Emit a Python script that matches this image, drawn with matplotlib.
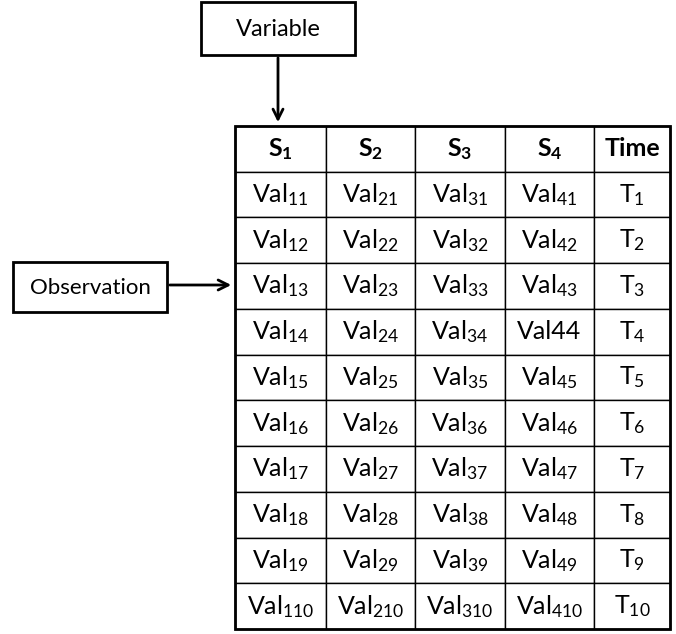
import matplotlib.pyplot as plt
from matplotlib.patches import Rectangle

plt.rcParams['font.family'] = ['Lato', 'DejaVu Sans']
plt.rcParams['mathtext.fontset'] = 'custom'
plt.rcParams['mathtext.rm'] = 'Lato'
plt.rcParams['mathtext.it'] = 'Lato'
plt.rcParams['mathtext.bf'] = 'Lato:bold'

# table content
headers = [r'$\mathbf{S_1}$', r'$\mathbf{S_2}$', r'$\mathbf{S_3}$', r'$\mathbf{S_4}$', 'Time']
sensors = ['1', '2', '3', '4']
obs_idx = ['1', '2', '3', '4', '5', '6', '7', '8', '9', '10']
plain_cells = {(3, 3): 'Val44'}

rows = []
for r, k in enumerate(obs_idx):
    row = []
    for c, s in enumerate(sensors):
        if (r, c) in plain_cells:
            row.append(plain_cells[(r, c)])
        else:
            row.append('Val$_{' + s + k + '}$')
    row.append('T$_{' + k + '}$')
    rows.append(row)

W, H = 676, 634
fig = plt.figure(figsize=(W / 100, H / 100), dpi=100)
ax = fig.add_axes([0, 0, 1, 1])
ax.set_xlim(0, W)
ax.set_ylim(H, 0)
ax.axis('off')

# table area in pixels
x0, x1, y0, y1 = 235, 670, 126, 629
col_w = [91, 89, 90, 89, 76]
tbl = ax.table(cellText=rows, colLabels=headers, cellLoc='center',
               bbox=[x0 / W, 1 - y1 / H, (x1 - x0) / W, (y1 - y0) / H])
tbl.auto_set_font_size(False)
for (r, c), cell in tbl.get_celld().items():
    cell.set_width(col_w[c] / sum(col_w))
    cell.set_linewidth(1.0)
    cell.set_edgecolor('black')
    cell.get_text().set_fontsize(18)
    if r == 0:
        cell.get_text().set_fontweight('bold')
ax.add_patch(Rectangle((x0, y0), x1 - x0, y1 - y0, fill=False, lw=2, ec='black'))

# label boxes
ax.add_patch(Rectangle((201, 2), 154, 53, fill=False, lw=2, ec='black'))
ax.text(278, 30, 'Variable', ha='center', va='center', fontsize=17)
ax.add_patch(Rectangle((13, 262), 154, 50, fill=False, lw=2, ec='black'))
ax.text(90, 288, 'Observation', ha='center', va='center', fontsize=16)

# arrows
ax.annotate('', xy=(278, 125), xytext=(278, 55),
            arrowprops=dict(arrowstyle='->', lw=2, color='black', mutation_scale=18))
ax.annotate('', xy=(234, 285), xytext=(167, 285),
            arrowprops=dict(arrowstyle='->', lw=2, color='black', mutation_scale=18))

fig.savefig('out.png', dpi=100)
